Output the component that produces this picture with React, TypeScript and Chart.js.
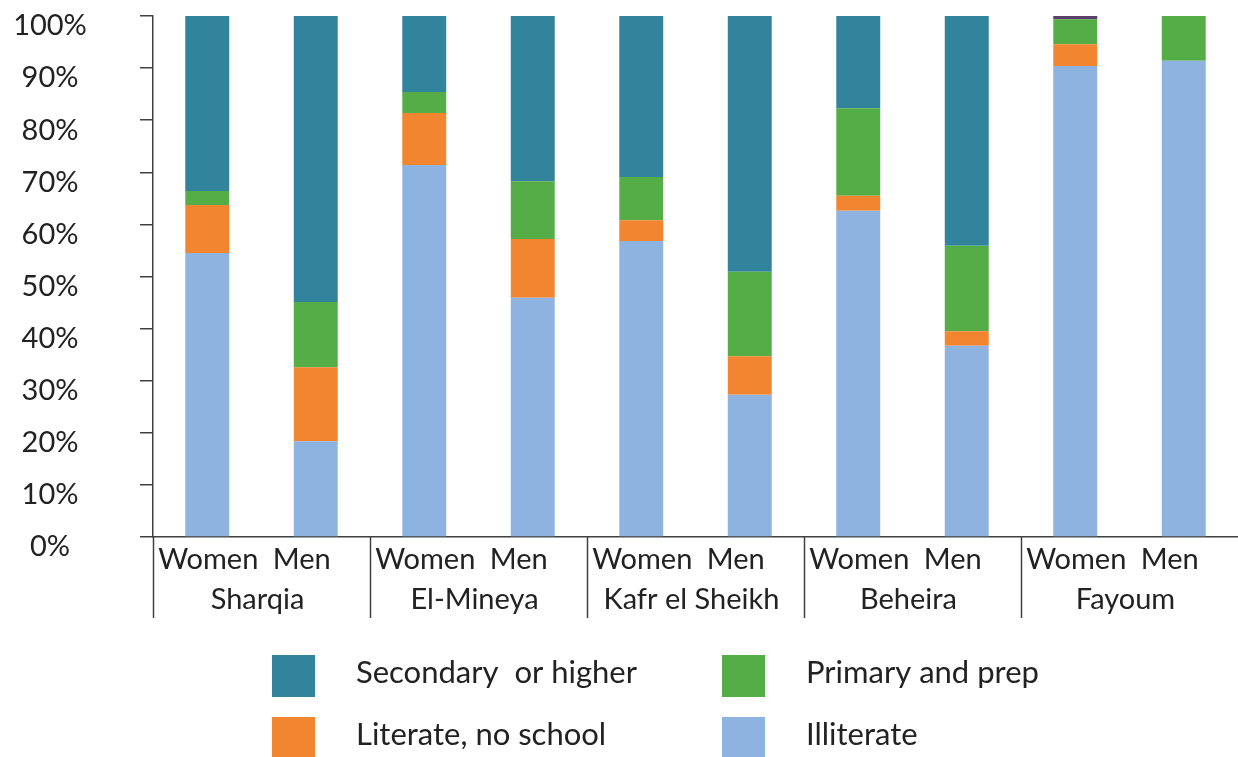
import React, { useEffect, useRef } from "react";
import { Chart, registerables } from "chart.js";

Chart.register(...registerables);

const barLabels = ["Women", "Men", "Women", "Men", "Women", "Men", "Women", "Men", "Women", "Men"];
const regions = ["Sharqia", "El-Mineya", "Kafr el Sheikh", "Beheira", "Fayoum"];
const yTicks = [0, 10, 20, 30, 40, 50, 60, 70, 80, 90, 100];

const illiterate = [54.5, 18.4, 71.4, 45.9, 56.8, 27.3, 62.6, 36.7, 90.4, 91.4];
const literateNoSchool = [9.2, 14.2, 10.0, 11.3, 4.0, 7.4, 2.9, 2.8, 4.2, 0];
const primaryAndPrep = [2.7, 12.5, 4.0, 11.1, 8.3, 16.2, 16.8, 16.4, 4.8, 8.6];
const secondaryOrHigher = [33.6, 54.9, 14.6, 31.7, 30.9, 49.1, 17.7, 44.1, 0, 0];
const other = [0, 0, 0, 0, 0, 0, 0, 0, 0.6, 0];

const legendItems = [
  { label: "Secondary  or higher", color: "#31849b" },
  { label: "Primary and prep", color: "#55ad48" },
  { label: "Literate, no school", color: "#f2852f" },
  { label: "Illiterate", color: "#8eb3e0" },
];

const FONT = "Lato, 'Open Sans', sans-serif";

const labelsPlugin = {
  id: "labelsPlugin",
  afterDraw(chart: any) {
    const ctx = chart.ctx;
    const x = chart.scales.x;
    const y = chart.scales.y;
    const area = chart.chartArea;
    const w = (area.right - area.left) / barLabels.length;
    ctx.save();
    ctx.fillStyle = "#222";
    ctx.font = `29px ${FONT}`;
    ctx.textAlign = "center";
    ctx.textBaseline = "middle";
    // y tick labels
    yTicks.forEach((v) => {
      ctx.fillText(v + "%", 50, y.getPixelForValue(v) + 10);
    });
    barLabels.forEach((lab, i) => {
      const cx = x.getPixelForValue(i) + (i % 2 === 0 ? 1 : -14);
      ctx.fillText(lab, cx, area.bottom + 23);
    });
    regions.forEach((r, k) => {
      const cx = area.left + w * (2 * k + 1) - 4;
      ctx.fillText(r, cx, area.bottom + 63);
    });
    ctx.strokeStyle = "#404040";
    ctx.lineWidth = 1.5;
    for (let k = 0; k < regions.length; k++) {
      const sx = Math.round(area.left + w * 2 * k) + 0.5;
      ctx.beginPath();
      ctx.moveTo(sx, area.bottom);
      ctx.lineTo(sx, area.bottom + 81);
      ctx.stroke();
    }
    // legend
    const cols = [272, 722];
    const rows = [655, 717];
    ctx.font = `31px ${FONT}`;
    legendItems.forEach((it, i) => {
      const bx = cols[i % 2];
      const by = rows[Math.floor(i / 2)];
      ctx.fillStyle = it.color;
      ctx.fillRect(bx, by, 43, 42);
      ctx.fillStyle = "#222";
      ctx.textAlign = "left";
      ctx.fillText(it.label, bx + 84, by + 18);
    });
    ctx.restore();
  },
};

export default function App() {
  const ref = useRef<HTMLCanvasElement>(null);
  useEffect(() => {
    const chart = new Chart(ref.current!, {
      type: "bar",
      data: {
        labels: barLabels,
        datasets: [
          { label: "Illiterate", data: illiterate, backgroundColor: "#8eb3e0" },
          { label: "Literate, no school", data: literateNoSchool, backgroundColor: "#f2852f" },
          { label: "Primary and prep", data: primaryAndPrep, backgroundColor: "#55ad48" },
          { label: "Secondary or higher", data: secondaryOrHigher, backgroundColor: "#31849b" },
          { label: "Other", data: other, backgroundColor: "#5a3f6b" },
        ],
      },
      options: {
        animation: false,
        responsive: false,
        maintainAspectRatio: false,
        layout: { padding: { left: 0, right: 0, top: 16, bottom: 220 } },
        datasets: { bar: { barPercentage: 0.405, categoryPercentage: 1, borderWidth: 0 } },
        plugins: { legend: { display: false }, tooltip: { enabled: false } },
        scales: {
          x: {
            stacked: true,
            grid: { display: false, drawTicks: false },
            border: { display: true, color: "#404040", width: 1.5 },
            ticks: { display: false },
          },
          y: {
            stacked: true,
            min: 0,
            max: 100,
            afterFit: (s: any) => { s.width = 153; },
            afterBuildTicks: (s: any) => { s.ticks = yTicks.map((v) => ({ value: v })); },
            grid: { drawOnChartArea: false, drawTicks: true, tickLength: 13, color: "#404040", lineWidth: 1.5 },
            border: { display: true, color: "#404040", width: 1.5 },
            ticks: { display: false },
          },
        },
      },
      plugins: [labelsPlugin],
    });
    return () => chart.destroy();
  }, []);
  return (
    <div style={{ position: "fixed", left: 0, top: 0, width: 1238, height: 757, background: "#fff" }}>
      <canvas ref={ref} width={1238} height={757} style={{ width: 1238, height: 757 }} />
    </div>
  );
}
